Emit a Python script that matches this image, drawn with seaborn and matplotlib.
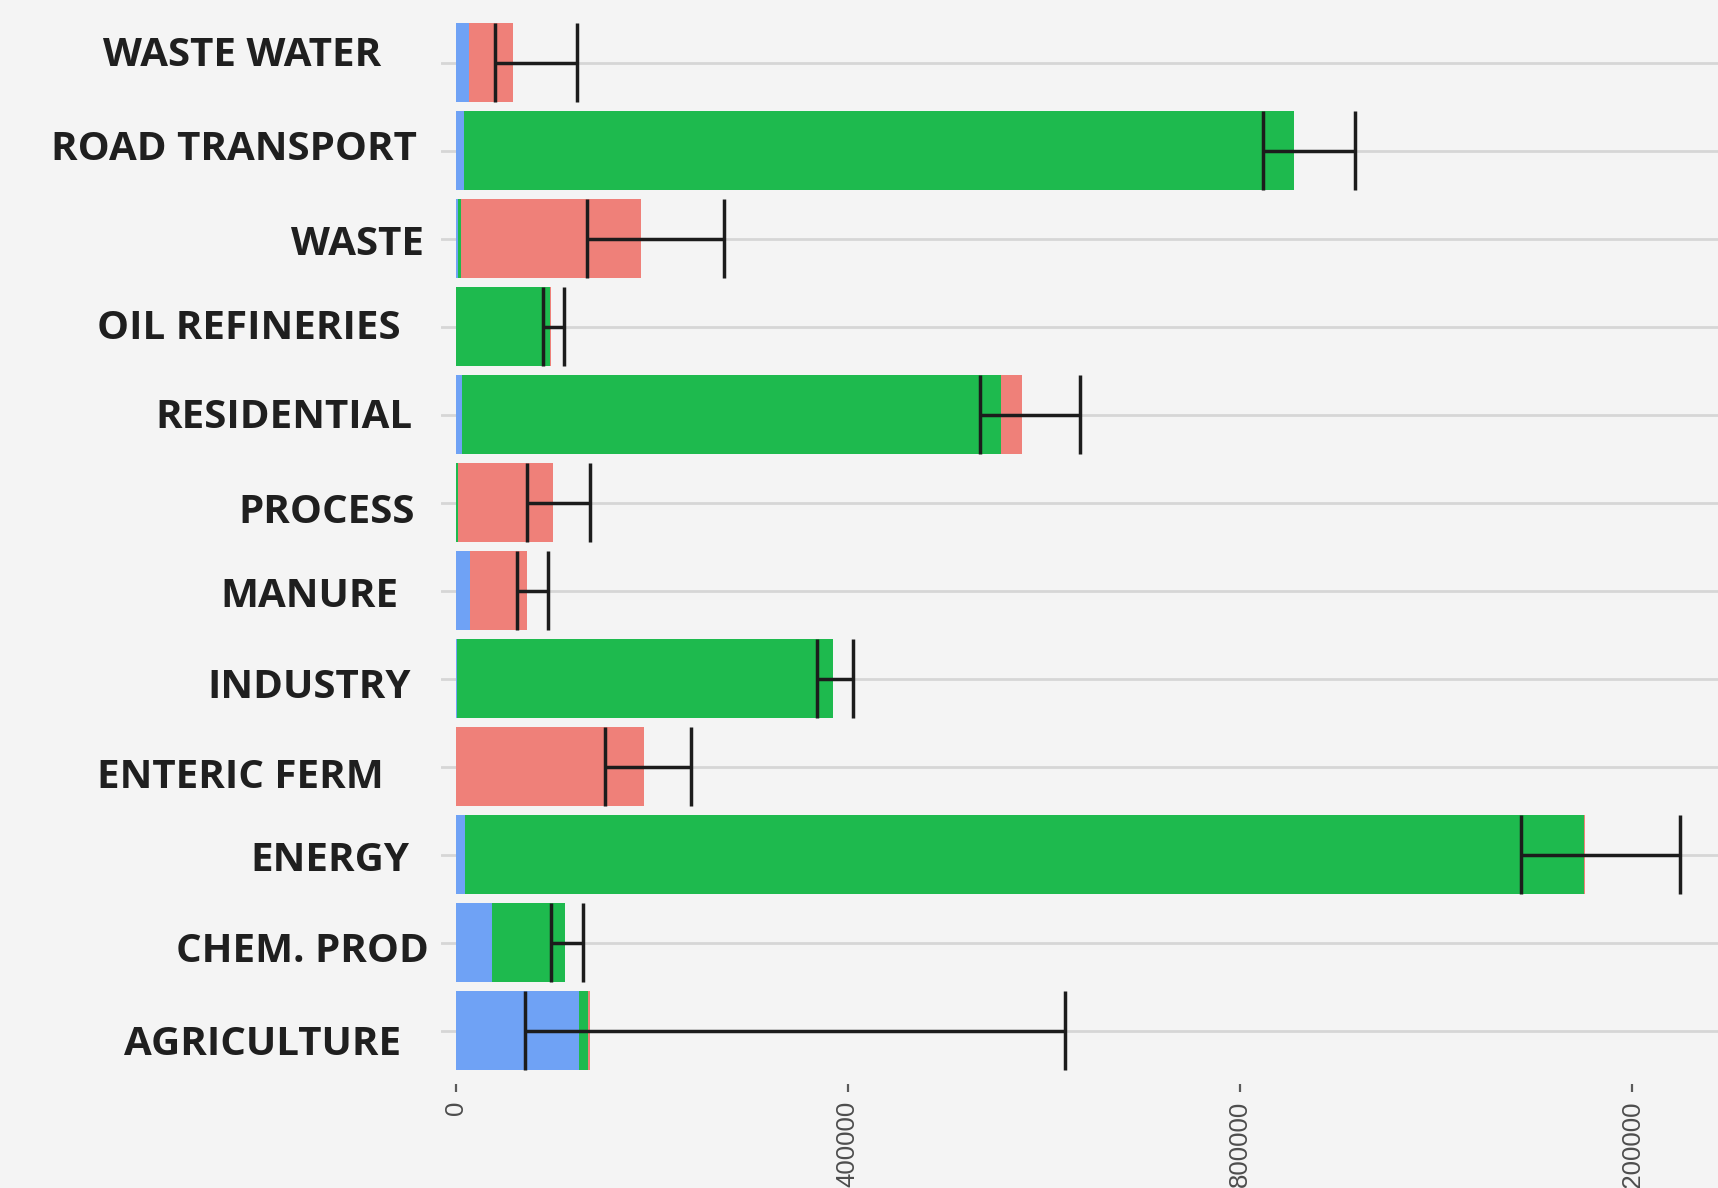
import numpy as np
import pandas as pd
import matplotlib
matplotlib.use("Agg")
import matplotlib.pyplot as plt
import matplotlib.transforms as mtransforms
import seaborn as sns

# Sectores (de arriba hacia abajo)
sectors = ["WASTE WATER", "ROAD TRANSPORT", "WASTE", "OIL REFINERIES", "RESIDENTIAL",
           "PROCESS", "MANURE", "INDUSTRY", "ENTERIC FERM", "ENERGY", "CHEM. PROD",
           "AGRICULTURE"]

# Emisiones por gas
n2o = [13600, 8200, 2000, 0, 6500, 0, 14600, 1000, 0, 9200, 37400, 126200]
co2 = [0, 847200, 3100, 96300, 550400, 2000, 0, 383700, 0, 1142500, 74200, 8500]
ch4 = [45200, 0, 184300, 1300, 21300, 97300, 57800, 0, 192500, 800, 0, 2400]

# Intervalo de incertidumbre
err_lo = [40100, 824100, 134300, 89100, 534600, 72400, 62900, 369100, 152700, 1086800, 96900, 70400]
err_hi = [123800, 918000, 273800, 110900, 637400, 137400, 94500, 405900, 239800, 1249300, 130300, 621700]

x_ticks = [0, 400000, 800000, 1200000]

# Desplazamientos de las etiquetas (px)
label_dx = [-48, -12, -5, -28, -17, -14, -31, -18, -45, -20, 0, -28]
label_dy = [-11.5, -5.5, 2, -2.6, -1.3, 6, 1.3, 5, 6.3, 1.9, 4.9, 10.1]

df = pd.DataFrame({"sector": sectors, "N2O": n2o, "CO2": co2, "CH4": ch4})
df["c_n2o"] = df["N2O"]
df["c_co2"] = df["c_n2o"] + df["CO2"]
df["c_ch4"] = df["c_co2"] + df["CH4"]

bg = "#f4f4f4"
sns.set_style("white", {"axes.facecolor": bg, "figure.facecolor": bg})

fig = plt.figure(figsize=(17.18, 11.88), dpi=100)
ax = fig.add_axes([441 / 1718, (1188 - 1083.7) / 1188, (1718 - 441) / 1718, 1074 / 1188])

# Barras apiladas: se dibuja el acumulado de mayor a menor
for col, color in [("c_ch4", "#ef8079"), ("c_co2", "#1eba4e"), ("c_n2o", "#6fa2f5")]:
    sns.barplot(data=df, x=col, y="sector", order=sectors, color=color,
                width=0.9, orient="h", ax=ax, saturation=1, linewidth=0, zorder=2)

ypos = np.arange(len(sectors))
ax.hlines(ypos, err_lo, err_hi, color="#1c1c1c", linewidth=2.5, zorder=3)
ax.vlines(err_lo, ypos - 0.45, ypos + 0.45, color="#1c1c1c", linewidth=2.5, zorder=3)
ax.vlines(err_hi, ypos - 0.45, ypos + 0.45, color="#1c1c1c", linewidth=2.5, zorder=3)

ax.set_xlim(-15000, (1718 - 455.7) * 1020.4)
ax.set_ylim(len(sectors) - 0.4, -0.6)
for y in ypos:
    ax.axhline(y, color="#d6d6d6", linewidth=2.0, zorder=1)

for s in ax.spines.values():
    s.set_visible(False)

ax.set_xlabel("")
ax.set_ylabel("")
ax.set_xticks(x_ticks)
ax.set_xticklabels([str(v) for v in x_ticks], rotation=90, family="Liberation Sans",
                   fontsize=18.5, color="#4d4d4d", va="top", ha="center")
ax.tick_params(axis="x", length=6, width=1.6, color="#5a5a5a", pad=6, bottom=True)
ax.tick_params(axis="y", length=0, pad=8.6, left=False)
ax.set_yticks(ypos)
ax.set_yticklabels(sectors, family="Open Sans", fontweight="bold", fontsize=29,
                   color="#1f1f1f", va="baseline", ha="right")

for lab, dx, dy in zip(ax.get_yticklabels(), label_dx, label_dy):
    off = mtransforms.ScaledTranslation(dx / 100, -(dy + 14.5) / 100, fig.dpi_scale_trans)
    lab.set_transform(lab.get_transform() + off)

fig.savefig("out.png", dpi=100, facecolor=bg)
